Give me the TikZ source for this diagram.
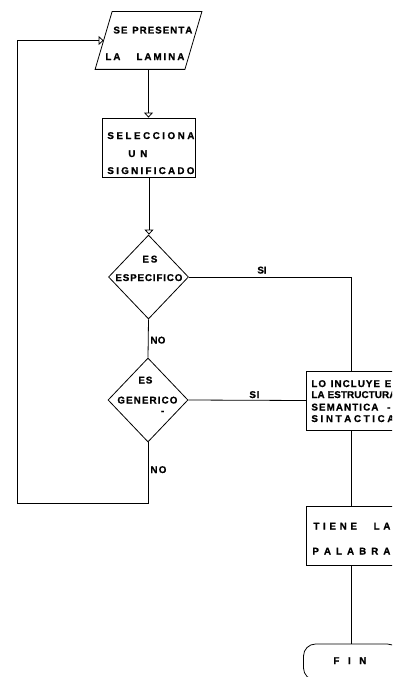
\documentclass[tikz,border=0pt]{standalone}
\usepackage{fontspec}
\setmainfont{Liberation Sans}[BoldFeatures={FakeBold=0.8}]
\usetikzlibrary{shapes.geometric,arrows.meta}
\makeatletter
\def\spr@end{\spr@end}
\def\spr@aux#1{\ifx#1\spr@end\else\hss#1\expandafter\spr@aux\fi}
\def\spr@first#1{#1\spr@aux}
\newcommand\spr[2]{\hbox to #1{\spr@first#2\spr@end}}
\makeatother
\begin{document}
\begin{tikzpicture}[x=1pt,y=-1pt, line width=0.8pt,
  box/.style={draw, rectangle, minimum width=90pt, minimum height=59pt, inner sep=0pt},
  dia/.style={draw, diamond, minimum width=80pt, minimum height=84pt, inner sep=0pt},
  parbox/.style={rectangle, minimum width=89pt, minimum height=57pt, inner sep=0pt},
  term/.style={draw, rectangle, rounded corners=12pt, minimum width=96pt, minimum height=36pt, inner sep=0pt},
  txt/.style={inner sep=0pt, anchor=base west, font=\bfseries\fontsize{9.8}{9.8}\selectfont},
  tip/.style={-{Triangle[open,length=5pt,width=9pt]}}]
\useasboundingbox (0,0) rectangle (392,677);
\clip (0,0) rectangle (392,677);

% shapes
\node[parbox] (par) at (148.5,40.5) {};
\draw ([xshift=8.5pt]par.north west) -- ([xshift=8.5pt]par.north east)
   -- ([xshift=-8.5pt]par.south east) -- ([xshift=-8.5pt]par.south west) -- cycle;
\node[box, minimum width=93pt] (sel) at (149,147.5) {};
\node[dia] (d1) at (148.5,277) {};
\node[dia] (d2) at (148,400) {};
\node[box] (inc) at (351.5,400.5) {};
\node[box] (tie) at (351.5,535.5) {};
\node[term] (fin) at (351.5,662) {};
\coordinate (loopBL) at (17,503);

% connectors
\draw[tip] (par.south) -- (par.south |- sel.north);
\draw[tip] (sel.south) -- (sel.south |- d1.north);
\draw (d1.south) -- (d2.north);
\draw (d1.east) -| (inc.north);
\draw (d2.east) -- (inc.west);
\draw (inc.south) -- (tie.north);
\draw (tie.south) -- (fin.north);
\draw[tip] (d2.south) |- (loopBL) |- (par.west);

% texts
\node[txt] (t1) at (113,33.5) {\spr{79pt}{SE\ PRESENTA}};
\node[txt] (t2) at (105,60) {\spr{79pt}{LA\ \ \ LAMINA}};
\node[txt] (t3) at (107,139) {\spr{87pt}{SELECCIONA}};
\node[txt] (t4) at (128,157) {\spr{19pt}{UN}};
\node[txt] (t5) at (107,174) {\spr{87pt}{SIGNIFICADO}};
\node[txt] (t6) at (142,262.5) {\spr{15pt}{ES}};
\node[txt] (t7) at (115,281) {\spr{67pt}{ESPECIFICO}};
\node[txt] (t8) at (257,273.5) {\spr{9pt}{SI}};
\node[txt] (t9) at (150,343.5) {\spr{15pt}{NO}};
\node[txt] (t10) at (138,383.5) {\spr{14pt}{ES}};
\node[txt] (t11) at (117,403.5) {\spr{60pt}{GENERICO}};
\node[txt] (t12) at (160.5,414) {-};
\node[txt] (t13) at (249,398) {\spr{10pt}{SI}};
\node[txt] (t14) at (150,473) {\spr{16pt}{NO}};
\node[txt] (t15) at (311,387) {\spr{88pt}{LO\ INCLUYE\ EN}};
\node[txt] (t16) at (311,398) {\spr{85pt}{LA\ ESTRUCTURA}};
\node[txt] (t17) at (311,410.5) {\spr{79pt}{SEMANTICA\ \ -}};
\node[txt] (t18) at (311,422) {\spr{83pt}{SINTACTICA}};
\node[txt] (t19) at (313,529.5) {\spr{77pt}{TIENE\ \ LA}};
\node[txt] (t20) at (312,554.5) {\spr{78pt}{PALABRA}};
\node[txt] (t21) at (333,664) {\spr{33pt}{FIN}};
\end{tikzpicture}
\end{document}
